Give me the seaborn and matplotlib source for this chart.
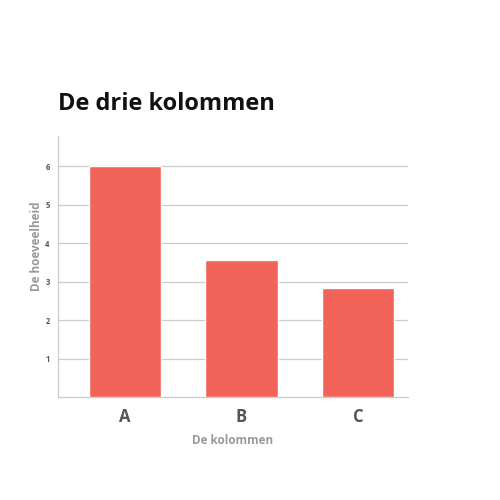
import matplotlib
matplotlib.use("Agg")
import matplotlib.pyplot as plt
import seaborn as sns
import pandas as pd

# chart data
categories = ["A", "B", "C"]
values = [6.0, 3.56, 2.84]
y_ticks = [1, 2, 3, 4, 5, 6]

df = pd.DataFrame({"kolom": categories, "hoeveelheid": values})

sns.set_style("white")
plt.rcParams["font.family"] = ["Open Sans", "DejaVu Sans"]

fig = plt.figure(figsize=(5, 5), dpi=100)
ax = fig.add_axes([0.116, 0.206, 0.70, 0.522])

sns.barplot(data=df, x="kolom", y="hoeveelheid", color="#f2645a",
            saturation=1, width=0.62, ax=ax, zorder=3)

ax.set_xlim(-0.575, 2.43)
ax.set_ylim(0, 6.78)
ax.set_yticks(y_ticks)
ax.set_yticklabels([str(t) for t in y_ticks], fontsize=5.5, color="#555555",
                   fontweight="bold")
ax.tick_params(axis="y", length=0, pad=6)
ax.tick_params(axis="x", length=0, pad=8)
for lbl in ax.get_xticklabels():
    lbl.set_fontsize(12)
    lbl.set_fontweight("bold")
    lbl.set_color("#555555")

ax.grid(axis="y", color="#cccccc", linewidth=0.9, zorder=0)
ax.grid(axis="x", visible=False)

for side in ["top", "right"]:
    ax.spines[side].set_visible(False)
ax.spines["left"].set_color("#cccccc")
ax.spines["bottom"].set_color("#cccccc")
ax.spines["left"].set_linewidth(0.9)
ax.spines["bottom"].set_linewidth(0.9)

ax.set_xlabel("De kolommen", fontsize=8.5, fontweight="bold", color="#999999",
              labelpad=6)
ax.set_ylabel("De hoeveelheid", fontsize=8.5, fontweight="bold", color="#999999")
ax.yaxis.set_label_coords(-0.043, 0.578)

fig.text(0.116, 0.78, "De drie kolommen", fontsize=17, fontweight="bold",
         color="#111111", ha="left", va="baseline")

fig.savefig("out.png", dpi=100, facecolor="white")
